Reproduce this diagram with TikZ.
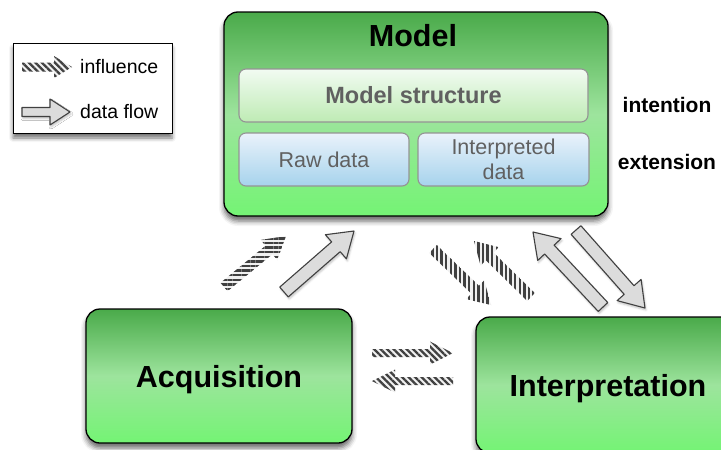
\documentclass[tikz,border=0pt]{standalone}
\usepackage{fontspec}
\setmainfont{Liberation Sans}
\usetikzlibrary{calc,patterns.meta,shadows.blur}

\definecolor{stagetop}{HTML}{4AAA4A}
\definecolor{stagemid}{HTML}{9DE49D}
\definecolor{stagebot}{HTML}{74F474}
\definecolor{structtop}{HTML}{F2FBF2}
\definecolor{structbot}{HTML}{BEEBB4}
\definecolor{datatop}{HTML}{EAF2FB}
\definecolor{databot}{HTML}{A6D3EC}
\definecolor{greytext}{HTML}{606060}
\definecolor{flowfill}{HTML}{DCDCDC}
\definecolor{flowline}{HTML}{404040}

\tikzset{
  stage/.style={draw=black, line width=1.3pt, rounded corners=14pt,
    top color=stagetop, bottom color=stagebot, middle color=stagemid,
    blur shadow={shadow xshift=0pt, shadow yshift=-5pt, shadow blur radius=5pt, shadow opacity=60},
    font=\bfseries\fontsize{30.5}{33}\selectfont, inner sep=0pt, text depth=0pt},
  part/.style={draw=black!42, line width=1.1pt, rounded corners=7pt, inner sep=0pt,
    text=greytext, font=\fontsize{21.5}{25}\selectfont, align=center},
  structpart/.style={part, top color=structtop, bottom color=structbot,
    font=\bfseries\fontsize{23.5}{26}\selectfont},
  datapart/.style={part, top color=datatop, bottom color=databot},
  influence/.style={preaction={fill=white!94!black},
    pattern={Lines[angle=#1,distance=4.6pt,line width=2.3pt]}, pattern color=black!75},
  dataflow/.style={draw=flowline, line width=1.1pt, line join=round, fill=flowfill,
    blur shadow={shadow xshift=1pt, shadow yshift=-2pt, shadow blur radius=2pt, shadow opacity=25}}
}

% block arrow: style, tail, tip, half shaft, half head, head length
\newcommand{\blockarrow}[6]{%
  \coordinate (ba-h) at ($(#3)!#6!(#2)$);
  \path[#1] ($(#2)!#4!90:(#3)$) -- ($(ba-h)!#4!90:(#3)$) -- ($(ba-h)!#5!90:(#3)$) -- (#3)
    -- ($(ba-h)!#5!-90:(#3)$) -- ($(ba-h)!#4!-90:(#3)$) -- ($(#2)!#4!-90:(#3)$) -- cycle;
}

\begin{document}
\begin{tikzpicture}[x=1pt,y=-1pt]
\useasboundingbox (0,0) rectangle (721,450);

% legend
\node[draw=black, line width=1pt, fill=white, minimum width=159pt, minimum height=90pt,
  blur shadow={shadow xshift=0pt, shadow yshift=-5pt, shadow blur radius=4pt, shadow opacity=55}] (legend) at (92.5,88) {};
\coordinate (li-tail) at (22,67);
\coordinate (li-tip) at (72,67);
\coordinate (lf-tail) at (22,112);
\coordinate (lf-tip) at (70,112);
\blockarrow{influence=135}{li-tail}{li-tip}{4.5pt}{11pt}{18pt}
\blockarrow{dataflow}{lf-tail}{lf-tip}{4.5pt}{13pt}{20pt}
\node[anchor=west, inner sep=0pt, font=\fontsize{19.5}{22}\selectfont] (influencelabel) at (80,67) {influence};
\node[anchor=west, inner sep=0pt, font=\fontsize{19.5}{22}\selectfont] (flowlabel) at (80,112) {data flow};

% model
\node[stage, minimum width=384pt, minimum height=204pt] (model) at (416,114) {};
\node[font=\bfseries\fontsize{30.5}{33}\selectfont] (modeltitle) at (413,36) {Model};
\node[structpart, minimum width=349pt, minimum height=53pt] (structure) at (413.5,95.5) {Model structure};
\node[datapart, minimum width=170pt, minimum height=53pt] (raw) at (324,159.5) {Raw data};
\node[datapart, minimum width=171pt, minimum height=53pt] (interpreted) at (503.5,159.5) {Interpreted\\data};
\node[font=\bfseries\fontsize{21}{24}\selectfont] (intention) at (667,105) {intention};
\node[font=\bfseries\fontsize{21}{24}\selectfont] (extension) at (667,162) {extension};

% stages
\node[stage, minimum width=266pt, minimum height=134pt] (acquisition) at (219,376) {Acquisition};
\node[stage, minimum width=264pt, minimum height=136pt] (interpretation) at (608,385) {Interpretation};

% arrows
\coordinate (am-i-tail) at (224,287);
\coordinate (am-i-tip) at (286,236);
\coordinate (am-f-tail) at (284,292);
\coordinate (am-f-tip) at (354,231);
\coordinate (mi-i-tail) at (433,249);
\coordinate (mi-i-tip) at (491,305);
\coordinate (im-i-tail) at (531,297);
\coordinate (im-i-tip) at (474,241);
\coordinate (im-f-tail) at (603,307);
\coordinate (im-f-tip) at (533,232);
\coordinate (mi-f-tail) at (576,230);
\coordinate (mi-f-tip) at (645,308);
\coordinate (ai-i-tail) at (372,353);
\coordinate (ai-i-tip) at (453,353);
\coordinate (ia-i-tail) at (453,381);
\coordinate (ia-i-tip) at (372,381);

\blockarrow{influence=0}{am-i-tail}{am-i-tip}{5.5pt}{13pt}{22pt}
\blockarrow{dataflow}{am-f-tail}{am-f-tip}{6.5pt}{16pt}{24pt}
\blockarrow{influence=90}{mi-i-tail}{mi-i-tip}{5.5pt}{13pt}{22pt}
\blockarrow{influence=90}{im-i-tail}{im-i-tip}{5.5pt}{13pt}{22pt}
\blockarrow{dataflow}{im-f-tail}{im-f-tip}{6.5pt}{16pt}{24pt}
\blockarrow{dataflow}{mi-f-tail}{mi-f-tip}{6.5pt}{16pt}{24pt}
\blockarrow{influence=135}{ai-i-tail}{ai-i-tip}{4pt}{11.5pt}{23pt}
\blockarrow{influence=135}{ia-i-tail}{ia-i-tip}{4pt}{11.5pt}{23pt}
\end{tikzpicture}
\end{document}
